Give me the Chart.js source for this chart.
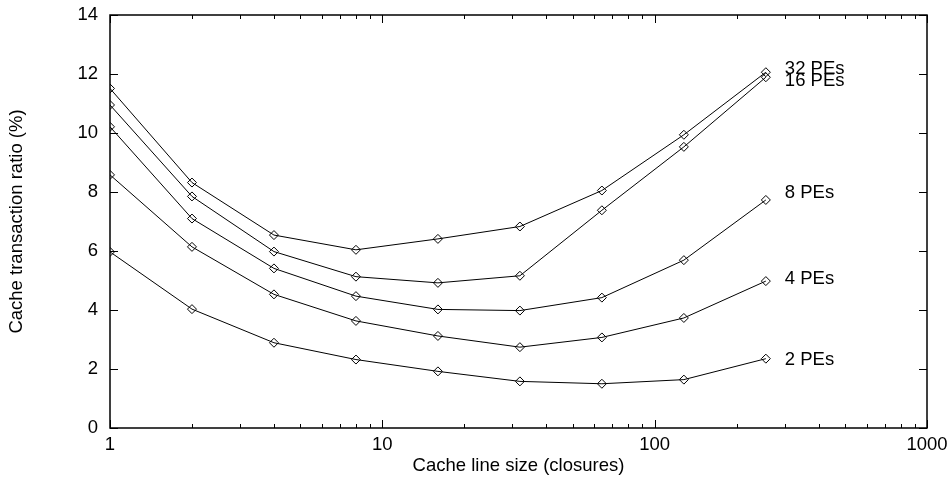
<!DOCTYPE html>
<html>
<head>
<meta charset="utf-8">
<script src="https://cdn.jsdelivr.net/npm/chart.js@4/dist/chart.umd.min.js"></script>
<style>
  html, body { margin: 0; padding: 0; background: #fff; }
  #wrap { width: 951px; height: 481px; position: relative; }
</style>
</head>
<body>
<div id="wrap"><canvas id="c" width="951" height="481"></canvas></div>
<script>
// Cache line sizes (closures) on a log axis
const lineSizes = [1, 2, 4, 8, 16, 32, 64, 128, 256];

// Cache transaction ratio (%) per processor count
const pe2  = [5.97, 4.03, 2.89, 2.32, 1.92, 1.58, 1.50, 1.64, 2.35];
const pe4  = [8.58, 6.14, 4.53, 3.63, 3.12, 2.74, 3.07, 3.73, 4.98];
const pe8  = [10.21, 7.10, 5.41, 4.47, 4.02, 3.98, 4.42, 5.69, 7.73];
const pe16 = [10.95, 7.85, 5.98, 5.13, 4.92, 5.16, 7.38, 9.53, 11.89];
const pe32 = [11.51, 8.32, 6.54, 6.04, 6.41, 6.83, 8.05, 9.94, 12.06];

const seriesNames = ['2 PEs', '4 PEs', '8 PEs', '16 PEs', '32 PEs'];
const seriesValues = [pe2, pe4, pe8, pe16, pe32];

// Axis tick labels
const xTickValues = [1, 10, 100, 1000];
const yTickValues = [0, 2, 4, 6, 8, 10, 12, 14];

const FONT = { family: '"Liberation Sans", Arial, Helvetica, sans-serif', size: 18.5 };

const datasets = seriesValues.map((vals, i) => ({
  label: seriesNames[i],
  data: lineSizes.map((x, j) => ({ x: x, y: vals[j] })),
  borderColor: '#000',
  borderWidth: 1,
  backgroundColor: 'rgba(0,0,0,0)',
  pointStyle: 'rectRot',
  pointRadius: 4.5,
  pointBorderWidth: 1,
  pointBorderColor: '#000',
  pointBackgroundColor: 'rgba(0,0,0,0)',
  tension: 0
}));

// Frame with inward ticks on all four sides, plus end-of-line series labels
const framePlugin = {
  id: 'frame',
  afterDatasetsDraw(chart, args, opts) {
    const { ctx, chartArea: a, scales } = chart;
    const xs = scales.x, ys = scales.y;
    ctx.save();
    ctx.strokeStyle = '#000';
    ctx.lineWidth = 1.5;
    ctx.strokeRect(a.left, a.top, a.right - a.left, a.bottom - a.top);

    ctx.lineWidth = 1;
    ctx.beginPath();
    // x ticks: majors at decades, minors at 2..9
    for (let d = 1; d <= 1000; d *= 10) {
      for (let m = 1; m <= 9; m++) {
        const v = d * m;
        if (v > 1000) break;
        const px = Math.round(xs.getPixelForValue(v)) + 0.5;
        const len = m === 1 ? 8 : 4;
        ctx.moveTo(px, a.bottom); ctx.lineTo(px, a.bottom - len);
        ctx.moveTo(px, a.top); ctx.lineTo(px, a.top + len);
      }
    }
    // y ticks
    yTickValues.forEach(v => {
      const py = Math.round(ys.getPixelForValue(v)) + 0.5;
      ctx.moveTo(a.left, py); ctx.lineTo(a.left + 8, py);
      ctx.moveTo(a.right, py); ctx.lineTo(a.right - 8, py);
    });
    ctx.stroke();

    // Series labels next to the last point of each line
    ctx.fillStyle = '#000';
    ctx.font = `${FONT.size}px ${FONT.family}`;
    ctx.textAlign = 'left';
    ctx.textBaseline = 'middle';
    chart.data.datasets.forEach((ds, i) => {
      const last = ds.data[ds.data.length - 1];
      const px = xs.getPixelForValue(last.x) + opts.dx;
      const py = ys.getPixelForValue(last.y) + opts.dy[i];
      ctx.fillText(ds.label, px, py);
    });
    ctx.restore();
  }
};

new Chart(document.getElementById('c'), {
  type: 'line',
  data: { datasets },
  options: {
    responsive: false,
    animation: false,
    events: [],
    layout: { padding: { top: 15, right: 24, left: 0, bottom: 0 } },
    plugins: {
      legend: { display: false },
      tooltip: { enabled: false },
      frame: { dx: 19, dy: [1.7, -2.3, -6.7, 3.7, -3] }
    },
    scales: {
      x: {
        type: 'logarithmic',
        min: 1,
        max: 1000,
        grid: { display: false, drawTicks: false },
        border: { display: false },
        afterBuildTicks(scale) {
          scale.ticks = xTickValues.map(v => ({ value: v }));
        },
        afterFit(scale) {
          scale.height = 53;
          scale.paddingLeft = 0;
          scale.paddingRight = 0;
        },
        ticks: {
          color: '#000',
          font: FONT,
          padding: 6,
          maxRotation: 0,
          autoSkip: false,
          callback: v => String(v)
        },
        title: {
          display: true,
          text: 'Cache line size (closures)',
          color: '#000',
          font: FONT,
          padding: { top: 0, bottom: 4 }
        }
      },
      y: {
        type: 'linear',
        min: 0,
        max: 14,
        grid: { display: false, drawTicks: false },
        border: { display: false },
        afterBuildTicks(scale) {
          scale.ticks = yTickValues.map(v => ({ value: v }));
        },
        afterFit(scale) {
          scale.width = 110;
          scale.paddingTop = 0;
          scale.paddingBottom = 0;
        },
        ticks: {
          color: '#000',
          font: FONT,
          padding: 12,
          callback: v => String(v)
        },
        title: {
          display: true,
          text: 'Cache transaction ratio (%)',
          color: '#000',
          font: FONT,
          padding: { top: 6, bottom: 0 }
        }
      }
    }
  },
  plugins: [framePlugin]
});
</script>
</body>
</html>
